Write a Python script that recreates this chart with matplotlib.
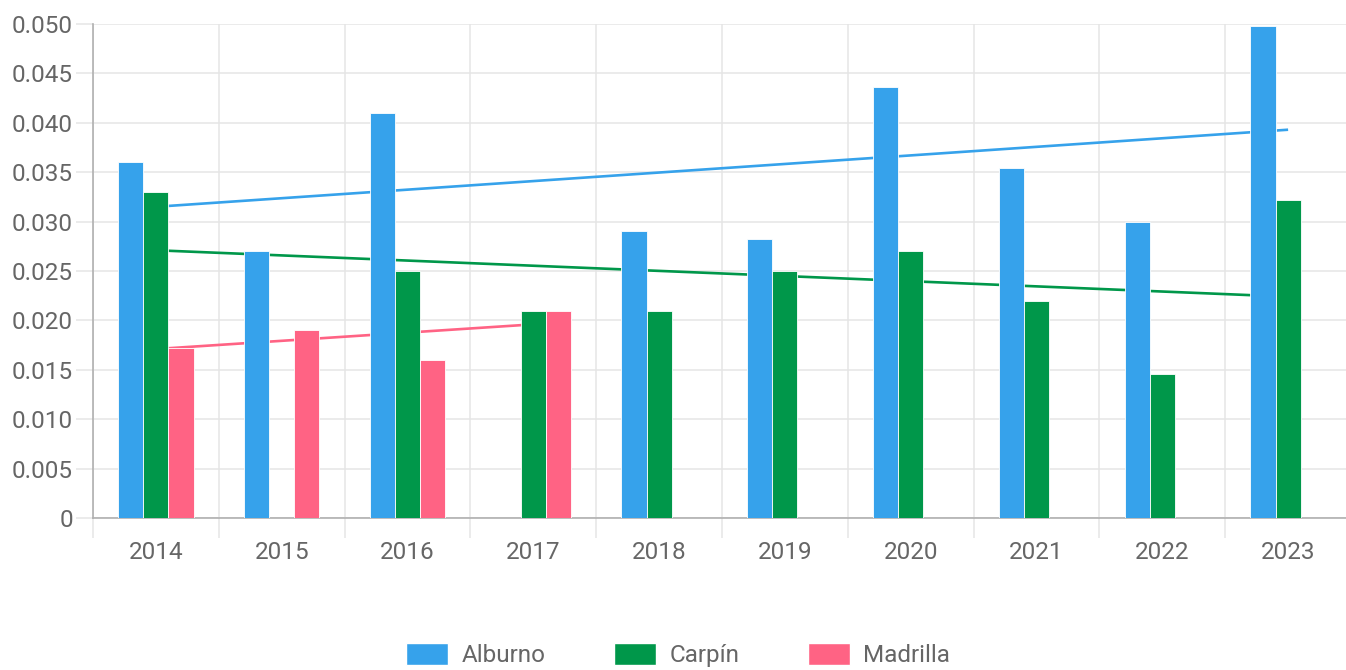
import numpy as np
import matplotlib.pyplot as plt
from matplotlib.patches import Patch

plt.rcParams['font.family'] = ['Roboto', 'DejaVu Sans']

years = ['2014', '2015', '2016', '2017', '2018', '2019', '2020', '2021', '2022', '2023']
alburno = [0.036, 0.027, 0.041, np.nan, 0.029, 0.0282, 0.0436, 0.0354, 0.030, 0.0498]
carpin = [0.033, np.nan, 0.025, 0.021, 0.021, 0.025, 0.027, 0.022, 0.0146, 0.0322]
madrilla = [0.0172, 0.019, 0.016, 0.021, np.nan, np.nan, np.nan, np.nan, np.nan, np.nan]

# trend lines (start / end values)
trend_alburno = [0.0315, 0.0393]
trend_carpin = [0.0271, 0.0224]
trend_madrilla = [0.0171, 0.0196]

names = ['Alburno', 'Carpín', 'Madrilla']
colors = ['#36A2EB', '#00974A', '#FF6384']
series = [alburno, carpin, madrilla]
trends = [(trend_alburno, 9), (trend_carpin, 9), (trend_madrilla, 3)]

W, H = 1346, 670
fig = plt.figure(figsize=(W / 100, H / 100), dpi=100, facecolor='white')
ax = fig.add_axes([93 / W, (H - 518) / H, 1258 / W, 494 / H])

x = np.arange(len(years))
bw = 0.2
for i, (vals, c) in enumerate(zip(series, colors)):
    ax.bar(x + (i - 1) * bw, vals, width=bw, color=c, edgecolor='white',
           linewidth=0.6, zorder=3)

for (tr, end), c in zip(trends, colors):
    ax.plot([0, end], tr, color=c, linewidth=1.9, zorder=2, solid_capstyle='butt')

ax.set_xlim(-0.5, len(years) - 0.5)
ax.set_ylim(0, 0.05)
yt = np.arange(0, 0.0501, 0.005)
ax.set_yticks(yt)
ax.set_yticklabels(['0'] + ['%.3f' % v for v in yt[1:]])
ax.set_xticks(x)
ax.set_xticklabels(years)
ax.set_xticks(np.arange(-0.5, len(years), 1), minor=True)

fs = 17.5
ax.grid(axis='y', color='#e5e5e5', linewidth=1.1, zorder=0)
ax.grid(axis='x', which='minor', color='#e5e5e5', linewidth=1.1, zorder=0)
ax.tick_params(axis='y', length=12.2, color='#e5e5e5', width=1.1, labelsize=fs,
               labelcolor='#666666', pad=2.2)
ax.tick_params(axis='x', which='major', length=0, labelsize=fs,
               labelcolor='#666666', pad=16.5)
ax.tick_params(axis='x', which='minor', length=14.4, color='#e5e5e5', width=1.1)
for s in ['top', 'right']:
    ax.spines[s].set_visible(False)
ax.spines['left'].set_color('#b0b0b0')
ax.spines['bottom'].set_color('#b0b0b0')
ax.spines['left'].set_linewidth(1.2)
ax.spines['bottom'].set_linewidth(1.2)

handles = [Patch(facecolor=c, edgecolor='white', label=n) for n, c in zip(names, colors)]
leg = fig.legend(handles=handles, loc='center', bbox_to_anchor=(678 / W, (H - 655) / H),
                 ncol=3, frameon=False, fontsize=fs, handlelength=1.75, handleheight=1.05,
                 handletextpad=0.55, columnspacing=2.8, labelcolor='#666666')

fig.savefig('out.png', dpi=100, facecolor='white')
